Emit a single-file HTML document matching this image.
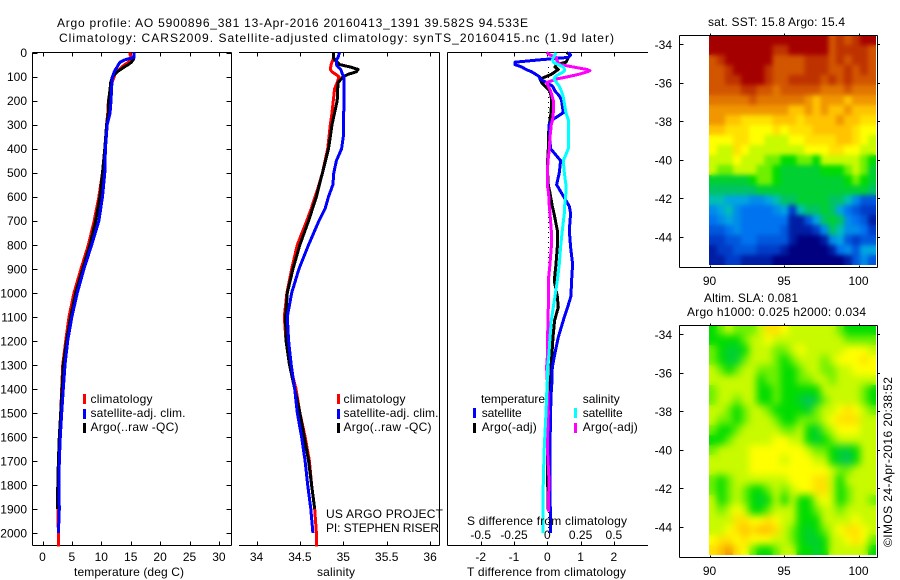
<!DOCTYPE html>
<html>
<head>
<meta charset="utf-8">
<title>Argo profile</title>
<style>
html,body{margin:0;padding:0;background:#fff;}
svg{display:block;}
text{font-family:"Liberation Sans",sans-serif;font-size:12px;fill:#000;}
</style>
</head>
<body>
<svg id="chart" width="900" height="580" viewBox="0 0 900 580" xmlns="http://www.w3.org/2000/svg">
<defs>
<filter id="soft-sst" x="0" y="0" width="1" height="1" color-interpolation-filters="sRGB">
<feGaussianBlur in="SourceGraphic" stdDeviation="2.5" result="b"/>
<feMerge><feMergeNode in="SourceGraphic"/><feMergeNode in="b"/></feMerge>
</filter>
<filter id="soft-sla" x="0" y="0" width="1" height="1" color-interpolation-filters="sRGB">
<feGaussianBlur in="SourceGraphic" stdDeviation="4" result="b"/>
<feMerge><feMergeNode in="SourceGraphic"/><feMergeNode in="b"/></feMerge>
</filter>
</defs>
<rect width="900" height="580" fill="#fff"/>
<g id="maps"></g>
<g id="axes"></g>
<g id="series"></g>

<text x="57" y="27" textLength="471">Argo profile: AO 5900896_381 13-Apr-2016 20160413_1391 39.582S 94.533E</text>
<text x="59" y="42" textLength="555">Climatology: CARS2009. Satellite-adjusted climatology: synTS_20160415.nc (1.9d later)</text>

<text x="74" y="576" textLength="110">temperature (deg C)</text>
<text x="317" y="576" textLength="38">salinity</text>
<text x="467" y="576" textLength="159">T difference from climatology</text>
<text x="467" y="525" textLength="160">S difference from climatology</text>

<g>
<rect x="83" y="394" width="3" height="10" fill="#f00"/>
<text x="90.5" y="403" textLength="62">climatology</text>
<rect x="83" y="409" width="3" height="10" fill="#00f"/>
<text x="90.5" y="417" textLength="95">satellite-adj. clim.</text>
<rect x="83" y="423" width="3" height="10" fill="#000"/>
<text x="90.5" y="431" textLength="88">Argo(..raw -QC)</text>
</g>

<g>
<rect x="337" y="394" width="3" height="10" fill="#f00"/>
<text x="343.5" y="403" textLength="62">climatology</text>
<rect x="337" y="409" width="3" height="10" fill="#00f"/>
<text x="343.5" y="417" textLength="95">satellite-adj. clim.</text>
<rect x="337" y="423" width="3" height="10" fill="#000"/>
<text x="343.5" y="431" textLength="88">Argo(..raw -QC)</text>
</g>

<g>
<text x="481" y="403" textLength="64">temperature</text>
<text x="582.7" y="403" textLength="37">salinity</text>
<rect x="473" y="408" width="3" height="10" fill="#00f"/>
<text x="481.7" y="417" textLength="40">satellite</text>
<rect x="473" y="423" width="3" height="10" fill="#000"/>
<text x="481.7" y="431" textLength="55">Argo(-adj)</text>
<rect x="574" y="408" width="3" height="10" fill="#0ff"/>
<text x="582.7" y="417" textLength="40">satellite</text>
<rect x="574" y="423" width="3" height="10" fill="#f0f"/>
<text x="582.7" y="431" textLength="55">Argo(-adj)</text>
</g>

<text x="326" y="518" textLength="117">US ARGO PROJECT</text>
<text x="326" y="532" textLength="113">PI: STEPHEN RISER</text>

<text x="708" y="26" textLength="137">sat. SST: 15.8 Argo: 15.4</text>
<text x="704" y="302" textLength="94">Altim. SLA: 0.081</text>
<text x="687" y="316" textLength="179">Argo h1000: 0.025 h2000: 0.034</text>
<text transform="translate(892,547) rotate(-90)" textLength="170">©IMOS 24-Apr-2016 20:38:52</text>
</svg>

<script>
// ---------- profile data ----------
const tempDepths = [0,10,20,30,40,50,60,70,80,90,100,125,150,200,250,300,400,500,600,700,800,900,1000,1100,1200,1300,1400,1500,1600,1700,1800,1900,2000,2056];
const tempClimatology = [14.9,14.9,15.2,15.2,14.6,14.0,13.5,13.1,12.7,12.3,12.2,11.8,11.6,11.2,11.1,10.9,10.6,10.2,9.6,8.8,7.8,6.55,5.36,4.5,3.94,3.43,3.26,3.09,2.95,2.8,2.7,2.6,2.7,2.7];
const tempArgo = [15.6,15.6,15.5,15.45,15.1,14.6,13.9,13.3,12.7,12.3,11.9,11.6,11.5,11.25,11.2,10.9,10.6,10.2,9.78,9.04,8.08,6.83,5.64,4.8,4.1,3.54,3.32,3.09,2.86,2.7,2.6,2.52];
const tempSatellite = [15.6,15.6,15.6,14.0,13.2,12.9,12.7,12.4,12.2,12.05,11.9,11.8,11.75,11.65,11.5,11.0,10.7,10.6,10.2,9.6,8.36,7.06,5.92,5.0,4.28,3.83,3.54,3.26,3.03,2.86,2.8,2.86,2.7];

const salDepths = [0,20,30,40,50,60,70,80,90,100,125,150,200,250,300,350,400,450,500,550,600,650,700,800,900,1000,1100,1200,1300,1400,1500,1600,1700,1800,1900,2000,2056];
const salClimatology = [34.885,34.89,34.88,34.87,34.86,34.855,34.85,34.87,34.91,34.95,34.93,34.9,34.885,34.87,34.85,34.835,34.82,34.79,34.76,34.72,34.675,34.63,34.58,34.47,34.405,34.35,34.32,34.34,34.385,34.455,34.5,34.56,34.61,34.635,34.67,34.69,34.69];
const salArgo = [34.885,34.885,34.9,34.93,34.96,35.08,35.17,35.15,35.06,35.0,34.94,34.935,34.93,34.9,34.87,34.85,34.83,34.795,34.76,34.725,34.69,34.645,34.6,34.5,34.42,34.355,34.335,34.34,34.38,34.44,34.5,34.55,34.6,34.635,34.67];
const salSatellite = [34.955,34.94,34.92,34.92,34.92,34.94,34.97,34.98,34.99,35.01,35.01,35.01,35.01,35.005,35.0,35.0,34.98,34.92,34.89,34.88,34.83,34.79,34.72,34.6,34.49,34.405,34.355,34.37,34.4,34.44,34.47,34.52,34.56,34.59,34.625,34.65];

const diffDepths = [0,10,20,30,40,50,60,70,75,80,90,100,110,125,140,160,180,200,250,280,300,350,400,450,500,550,585,640,670,740,810,880,950,1015,1060,1115,1185,1250,1310,1365,1430,1500,1640,1780,1910,2000];
const diffTempArgo = [.58,.7,.63,.6,.56,.28,.23,.33,.28,.23,.13,-.04,-.22,-.17,-.07,.08,.11,.13,.11,.08,.06,.03,.03,.01,.01,.03,.08,.15,.2,.3,.3,.26,.21,.3,.33,.22,.17,.14,.11,.1,.08,.06,0,.01,.03];
const diffTempSatellite = [.63,.7,.63,-.22,-.97,-.97,-.77,-.64,-.56,-.47,-.35,-.24,-.22,-.02,.16,.23,.36,.43,.48,.15,.05,.07,.1,.4,.36,.28,.43,.66,.7,.66,.7,.76,.73,.71,.61,.48,.33,.23,.15,.14,.11,.1,.08,.08,.09,.09];
const diffSalArgo = [-.005,.02,.07,.07,.08,.095,.195,.295,.32,.3,.24,.16,.07,-.005,.0075,.025,.035,.045,.045,.04,.03,.02,.015,.005,0,0,.01,.015,.02,.03,.03,.02,.0075,.0075,.0075,.005,.0025,.0025,-.005,0,.005,.0075,0,.0125,.0075];
const diffSalSatellite = [.065,.0575,.045,.04,.045,.08,.12,.13,.13,.12,.09,.0575,.05,.07,.09,.105,.118,.125,.14,.1575,.1575,.1575,.1575,.12,.1275,.14,.14,.13,.1275,.1125,.1,.09,.075,.0575,.045,.03,.02,.0125,.0025,0,-.005,-.01,-.0225,-.03,-.032,-.0325];
const zeroLineDepths = [60,2000];
const zeroLineValues = [.04,.04];

// ---------- tick labels ----------
const depthTicks = [0,100,200,300,400,500,600,700,800,900,1000,1100,1200,1300,1400,1500,1600,1700,1800,1900,2000];
const tempTicks = [0,5,10,15,20,25,30];
const salTicks = [34,34.5,35,35.5,36];
const diffTempTicks = [-2,-1,0,1,2];
const diffSalTicks = [-0.5,-0.25,0,0.25,0.5];
const mapLonTicks = [90,95,100];
const mapLatTicks = [-34,-36,-38,-40,-42,-44];

// ---------- map data: colour index 0 (navy) .. 20 (dark red) ----------
const sstGrid = [
[20,20,20,20,20,20,20,20,20,20,20,20,20,20,20,18,19,18,19,20,20],
[20,20,20,20,20,20,20,20,19,19,20,20,20,20,20,18,19,19,19,19,18],
[18,19,20,20,20,20,20,20,18,18,18,18,19,19,19,18,19,18,19,19,18],
[18,18,19,20,20,20,20,19,18,18,18,18,19,19,19,18,18,19,18,19,18],
[18,18,19,19,20,20,20,19,18,18,19,19,19,19,18,19,18,19,18,18,18],
[18,18,18,18,19,19,18,18,17,18,18,18,18,18,17,17,17,18,17,17,17],
[17,17,17,17,17,18,17,17,17,17,17,17,16,15,16,16,16,15,16,16,16],
[16,16,16,16,16,16,16,16,16,16,15,15,16,15,16,15,15,16,15,15,15],
[16,16,15,15,14,14,14,14,15,15,15,14,15,15,15,15,16,15,15,14,14],
[15,15,14,14,14,13,13,13,14,13,14,14,14,15,15,15,15,15,14,13,13],
[13,13,13,14,14,13,13,12,12,12,13,13,14,14,14,14,15,15,14,13,12],
[13,12,12,14,13,12,12,12,12,12,12,12,13,13,13,14,14,13,13,12,12],
[12,12,12,13,12,12,12,11,11,10,10,11,11,10,12,12,12,12,12,11,10],
[12,11,11,12,12,12,11,11,10,9,9,9,9,9,10,10,10,11,12,11,9],
[9,9,9,9,9,10,11,11,10,9,9,9,9,9,9,9,9,10,11,10,9],
[8,8,8,8,8,8,9,9,9,9,9,9,9,9,9,9,9,9,9,9,8],
[7,7,6,6,6,5,5,6,7,8,8,9,9,9,9,8,8,7,5,3,3],
[5,6,7,5,4,4,4,4,5,6,2,7,8,8,9,8,6,4,3,2,2],
[4,5,6,5,4,4,4,4,4,4,1,1,3,6,8,9,8,5,4,3,1],
[3,3,4,5,4,4,4,4,4,3,1,1,1,2,5,8,7,5,5,4,2],
[2,2,3,3,4,4,3,3,3,3,1,0,0,0,1,5,6,3,2,3,3],
[1,2,2,3,3,3,2,2,2,1,0,0,0,0,0,1,4,5,3,6,6],
[1,1,2,2,1,1,1,1,0,0,0,0,0,0,0,0,0,1,3,5,3]
];
const slaGrid = [
[10,11,12,11,11,11,12,14,14,13,12,12,12,12,12,12,11,10,10,10,10],
[10,10,10,10,11,12,12,13,12,12,12,12,12,12,12,12,12,11,11,11,11],
[11,10,9,9,10,12,12,12,11,11,12,13,12,12,12,12,12,13,13,13,12],
[11,10,9,9,11,12,12,12,11,10,11,12,12,12,11,12,13,13,13,14,13],
[12,11,10,11,12,12,11,11,11,10,10,11,12,12,11,11,12,12,13,13,13],
[12,12,12,12,12,12,10,11,11,10,10,11,11,12,12,11,12,12,12,12,12],
[11,12,12,12,12,12,10,10,11,10,10,10,10,10,12,12,12,12,12,11,10],
[11,12,12,11,12,12,10,10,11,10,10,9,8,9,11,12,12,12,12,11,10],
[12,12,11,10,11,12,12,11,10,10,10,10,9,11,12,12,13,14,13,12,11],
[12,11,11,10,11,12,12,12,11,10,10,11,11,11,12,13,14,14,14,12,12],
[11,10,10,11,12,12,12,12,12,11,11,12,10,9,11,12,13,13,13,12,12],
[10,10,11,12,12,12,12,12,13,13,12,12,10,9,10,11,12,12,12,12,12],
[11,12,12,12,12,13,13,13,13,13,13,13,12,11,11,10,9,9,10,12,12],
[12,12,12,12,12,13,13,13,13,12,13,13,13,12,12,10,9,8,10,12,12],
[12,12,12,12,12,13,13,13,13,13,13,13,13,13,13,12,11,11,12,12,12],
[11,10,11,12,12,12,12,12,12,12,13,13,13,14,14,12,10,12,12,12,12],
[11,10,11,12,11,10,10,11,12,11,12,13,13,14,14,12,10,11,12,12,12],
[12,10,11,12,11,10,9,10,12,10,12,10,10,12,13,12,10,11,12,12,11],
[12,11,12,13,12,10,10,11,12,12,12,10,10,11,12,12,11,12,12,12,12],
[12,12,12,14,14,13,13,14,13,12,12,10,10,10,12,12,12,12,13,12,12],
[12,12,13,14,15,14,15,15,14,12,11,10,9,10,11,12,13,14,14,13,12],
[13,14,14,13,14,13,13,13,12,12,11,10,9,9,10,12,12,13,14,13,11],
[14,15,16,14,13,11,10,10,11,12,12,10,10,9,10,12,12,12,12,12,10]
];
const jetStops = [[0,0,0,128],[2,0,60,200],[4,0,115,240],[6,0,165,225],[7,0,190,180],[8,0,195,100],[10,0,220,0],[11,110,240,0],[12,200,250,0],[13,255,255,0],[15,255,195,0],[16,240,150,0],[18,210,85,0],[19,190,50,0],[20,165,0,0]];

// ---------- axis functions ----------
const NS = 'http://www.w3.org/2000/svg';
const yDepth = d => 52.6 + d * 0.2402;
const xTemp = t => 42.5 + t * 5.88;
const xSal = s => 256.5 + (s - 34) * 86.8;
const xDiffT = t => 547.3 + t * 33.3;
const xDiffS = s => 547.3 + s * 133.2;
const xLon = lon => 709.5 + (lon - 90) * 14.9;
const yLat = (lat, mapTop) => mapTop + 9.3 + (-34 - lat) * 19.27;

function make(tag, attrs, parent) {
  const el = document.createElementNS(NS, tag);
  for (const k in attrs) el.setAttribute(k, attrs[k]);
  parent.appendChild(el);
  return el;
}
const axesLayer = document.getElementById('axes');
const seriesLayer = document.getElementById('series');
const mapLayer = document.getElementById('maps');

function drawLine(x1, y1, x2, y2, name) {
  const el = make('line', {x1: x1, y1: y1, x2: x2, y2: y2, stroke: '#000', 'stroke-width': 1, 'shape-rendering': 'crispEdges'}, axesLayer);
  
  
  return el;
}
function drawLabel(x, y, str, anchor, name) {
  const el = make('text', {x: x, y: y, 'text-anchor': anchor}, axesLayer);
  el.textContent = str;
  
  
  return el;
}
function profile(depths, values, xFn, colour, width, name) {
  const pts = values.map((v, i) => xFn(v).toFixed(1) + ',' + yDepth(depths[i]).toFixed(1)).join(' ');
  const el = make('polyline', {points: pts, fill: 'none', stroke: colour, 'stroke-width': width, 'stroke-linejoin': 'round', 'shape-rendering': 'crispEdges'}, seriesLayer);
  
  
  return el;
}

// ---------- panel frames ----------
const frameTop = 52.5, frameBottom = 545.5;
drawLine(32.5, frameTop, 231.5, frameTop, 'temperature-top-axis');
drawLine(32.5, frameBottom, 231.5, frameBottom, 'temperature-bottom-axis');
drawLine(32.5, frameTop, 32.5, frameBottom, 'depth-axis');
drawLine(231.5, frameTop, 231.5, frameBottom, 'temperature-right-axis');
drawLine(239, frameTop, 439.5, frameTop, 'salinity-top-axis');
drawLine(239, frameBottom, 439.5, frameBottom, 'salinity-bottom-axis');
drawLine(439.5, frameTop, 439.5, frameBottom, 'salinity-right-axis');
drawLine(447.5, frameTop, 648, frameTop, 'difference-top-axis');
drawLine(447.5, frameBottom, 648, frameBottom, 'difference-bottom-axis');
drawLine(447.5, frameTop, 447.5, frameBottom, 'difference-left-axis');

depthTicks.forEach(d => {
  const y = Math.round(yDepth(d)) + 0.5;
  drawLine(32.5, y, 37.5, y, 'depth-tick');
  drawLine(226.5, y, 231.5, y, 'depth-tick-right');
  drawLabel(27, yDepth(d) + 4.5, String(d), 'end', 'depth-tick-label');
});
function xTicks(ticks, xFn, prefix, labelY) {
  ticks.forEach(v => {
    const x = Math.round(xFn(v)) + 0.5;
    drawLine(x, frameTop, x, frameTop + 4, prefix + '-top-tick');
    drawLine(x, frameBottom - 4, x, frameBottom, prefix + '-bottom-tick');
    drawLabel(xFn(v), labelY, String(v), 'middle', prefix + '-tick-label');
  });
}
xTicks(tempTicks, xTemp, 'temperature', 561);
xTicks(salTicks, xSal, 'salinity', 561);
xTicks(diffTempTicks, xDiffT, 'difference-t', 561);
diffSalTicks.forEach(v => {
  drawLabel(xDiffS(v), 539, String(v), 'middle', 'difference-s-tick-label');
});

// ---------- series ----------
profile(tempDepths, tempClimatology, xTemp, '#f00', 3, 'temperature-climatology-line');
profile(tempDepths, tempArgo, xTemp, '#000', 3, 'temperature-argo-line');
profile(tempDepths, tempSatellite, xTemp, '#00f', 3, 'temperature-satellite-line');

profile(salDepths, salClimatology, xSal, '#f00', 3, 'salinity-climatology-line');
profile(salDepths, salArgo, xSal, '#000', 3, 'salinity-argo-line');
profile(salDepths, salSatellite, xSal, '#00f', 3, 'salinity-satellite-line');

const zeroLine = profile(zeroLineDepths, zeroLineValues, xDiffT, '#000', 1, 'difference-zero-line');
zeroLine.setAttribute('stroke-dasharray', '1 4');
profile(diffDepths, diffTempArgo, xDiffT, '#000', 3, 'difference-t-argo-line');
profile(diffDepths, diffTempSatellite, xDiffT, '#00f', 3, 'difference-t-satellite-line');
profile(diffDepths, diffSalArgo, xDiffS, '#f0f', 3, 'difference-s-argo-line');
profile(diffDepths, diffSalSatellite, xDiffS, '#0ff', 3, 'difference-s-satellite-line');

// ---------- maps ----------
function jet(v) {
  for (let i = 1; i < jetStops.length; i++) {
    if (v <= jetStops[i][0]) {
      const a = jetStops[i - 1], b = jetStops[i];
      const f = (v - a[0]) / (b[0] - a[0]);
      return 'rgb(' + [1, 2, 3].map(k => Math.round(a[k] + (b[k] - a[k]) * f)).join(',') + ')';
    }
  }
  return 'rgb(165,0,0)';
}
function drawMap(grid, mapTop, name, filterId) {
  const g = make('g', {filter: 'url(#' + filterId + ')'}, mapLayer);
  
  
  const cw = 167 / grid[0].length, ch = 230 / grid.length;
  grid.forEach((row, r) => {
    row.forEach((v, c) => {
      const cell = make('rect', {x: (709 + c * cw).toFixed(2), y: (mapTop + r * ch).toFixed(2), width: (c === row.length - 1 ? cw : cw + 0.5).toFixed(2), height: (r === grid.length - 1 ? ch : ch + 0.5).toFixed(2), fill: jet(v), 'shape-rendering': 'crispEdges'}, g);
      
      
    });
  });
  const t = mapTop + 0.5, b = mapTop + 232.5;
  drawLine(679.5, t, 877.5, t, name + '-top-axis');
  drawLine(679.5, b, 877.5, b, name + '-bottom-axis');
  drawLine(679.5, t, 679.5, b, name + '-left-axis');
  drawLine(877.5, t, 877.5, b, name + '-right-axis');
  mapLonTicks.forEach(lon => {
    const x = Math.round(xLon(lon)) + 0.5;
    drawLine(x, t - 2, x, t, name + '-lon-top-tick');
    drawLine(x, b - 2, x, b, name + '-lon-bottom-tick');
    drawLabel(xLon(lon), mapTop + 250, String(lon), 'middle', name + '-lon-tick-label');
  });
  mapLatTicks.forEach(lat => {
    const y = Math.round(yLat(lat, mapTop)) + 0.5;
    drawLine(679.5, y, 683.5, y, name + '-lat-tick');
    drawLine(877.5, y, 880, y, name + '-lat-tick-right');
    drawLabel(672, yLat(lat, mapTop) + 4.5, String(lat), 'end', name + '-lat-tick-label');
  });
}
drawMap(sstGrid, 35, 'sst-map', 'soft-sst');
drawMap(slaGrid, 325, 'sla-map', 'soft-sla');
</script>
</body>
</html>
